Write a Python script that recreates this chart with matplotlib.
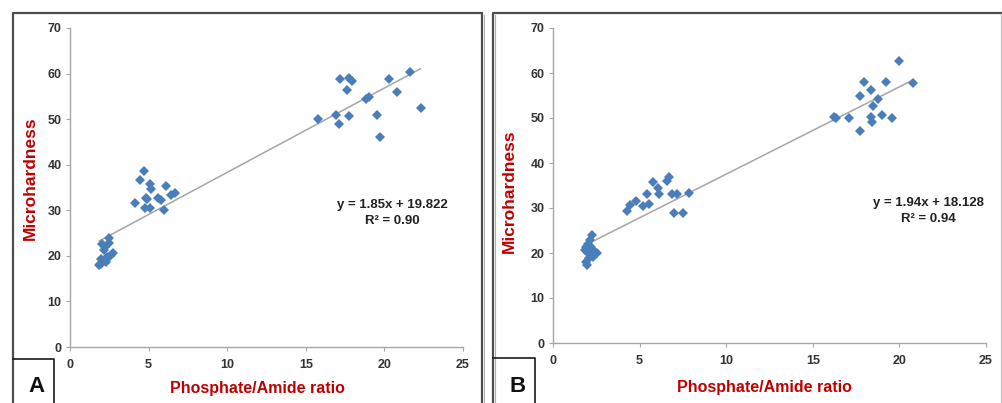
import matplotlib
matplotlib.use("Agg")
import matplotlib.pyplot as plt
import numpy as np
from matplotlib.lines import Line2D

plt.rcParams['font.family'] = ['Liberation Sans', 'DejaVu Sans']
plt.rcParams['font.weight'] = 'bold'

# =============================================================================
# DATA
# =============================================================================
# Panel A
a_ratio = [15.8, 16.9, 17.1, 17.2, 17.65, 17.75, 17.95, 17.75, 18.8, 19.0,
           19.5, 19.7, 20.3, 20.8, 21.6, 22.3,
           4.15, 4.45, 4.7, 4.75, 4.85, 4.9, 5.1, 5.15, 5.1, 5.6, 5.8, 5.95,
           6.1, 6.45, 6.7,
           1.86, 2.0, 2.05, 2.15, 2.25, 2.35, 2.45, 2.5, 2.75, 1.95, 2.3,
           2.55, 2.2]
a_hard = [50.0, 51.0, 48.9, 58.7, 56.3, 59.0, 58.4, 50.6, 54.4, 54.8,
          51.0, 46.1, 58.8, 55.9, 60.3, 52.4,
          31.7, 36.7, 38.7, 30.6, 32.8, 32.4, 35.8, 34.7, 30.6, 32.8, 32.3,
          30.0, 35.3, 33.4, 33.7,
          18.0, 18.3, 22.7, 21.3, 19.1, 19.8, 24.0, 22.9, 20.7, 19.4, 18.7,
          19.9, 22.0]
a_slope, a_intercept = 1.85, 19.822
a_eq = "y = 1.85x + 19.822"
a_r2 = "R² = 0.90"

# Panel B
b_ratio = [16.2, 16.35, 17.1, 17.75, 17.75, 17.95, 18.35, 18.35, 18.4, 18.5,
           18.75, 19.0, 19.2, 19.6, 20.0, 20.8,
           4.3, 4.45, 4.8, 5.2, 5.45, 5.55, 5.8, 6.05, 6.1, 6.6, 6.7, 6.85,
           7.15, 7.0, 7.5, 7.85,
           1.97, 1.9, 1.85, 2.02, 2.15, 2.27, 2.02, 2.3, 2.55, 2.2, 2.4,
           2.08, 1.93]
b_hard = [50.3, 50.0, 50.1, 55.0, 47.2, 58.1, 56.3, 50.2, 49.1, 52.7,
          54.2, 50.6, 58.0, 50.0, 62.6, 57.8,
          29.3, 30.7, 31.6, 30.4, 33.1, 31.0, 35.8, 34.4, 33.1, 35.9, 37.0,
          33.1, 33.1, 29.0, 29.0, 33.4,
          17.3, 18.0, 20.6, 22.1, 23.0, 23.9, 19.9, 19.2, 19.9, 21.4, 20.3,
          18.8, 21.4]
b_slope, b_intercept = 1.94, 18.128
b_eq = "y = 1.94x + 18.128"
b_r2 = "R² = 0.94"

x_ticks = [0, 5, 10, 15, 20, 25]
y_ticks = [0, 10, 20, 30, 40, 50, 60, 70]

# =============================================================================
# STYLE
# =============================================================================
MARKER_COLOR = '#4a7ebb'
TREND_COLOR = '#a6a6a6'
LABEL_RED = '#c00000'
TICK_COLOR = '#333333'
SPINE_COLOR = '#a6a6a6'
W, H = 1003, 403

fig = plt.figure(figsize=(W / 100, H / 100), dpi=100)


def px_rect(x0, x1, ytop, ybot):
    # pixel box -> figure fraction [left, bottom, width, height]
    return [x0 / W, 1 - ybot / H, (x1 - x0) / W, (ybot - ytop) / H]


def draw_panel(rect, ratio, hard, slope, intercept, eq, r2, eq_xy):
    ax = fig.add_axes(rect)
    ax.plot(ratio, hard, linestyle='None', marker='D', markersize=4.8,
            color=MARKER_COLOR, markeredgewidth=0, zorder=3)
    xs = np.array([min(ratio), max(ratio)])
    ax.plot(xs, slope * xs + intercept, color=TREND_COLOR, lw=1.1, zorder=2)
    ax.set_xlim(0, 25)
    ax.set_ylim(0, 70)
    ax.set_xticks(x_ticks)
    ax.set_yticks(y_ticks)
    for s in ['top', 'right']:
        ax.spines[s].set_visible(False)
    for s in ['left', 'bottom']:
        ax.spines[s].set_color(SPINE_COLOR)
        ax.spines[s].set_linewidth(1.0)
    ax.tick_params(axis='both', colors=SPINE_COLOR, length=3, width=0.8,
                   labelcolor=TICK_COLOR, labelsize=9)
    ax.tick_params(axis='x', pad=6)
    ax.tick_params(axis='y', pad=3)
    for lab in ax.get_xticklabels() + ax.get_yticklabels():
        lab.set_fontweight('bold')
    ax.set_xlabel("Phosphate/Amide ratio", color=LABEL_RED, fontsize=11.5,
                  fontweight='bold')
    ax.set_ylabel("Microhardness", color=LABEL_RED, fontsize=12.5,
                  fontweight='bold')
    ax.text(eq_xy[0], eq_xy[1], eq + "\n" + r2, transform=ax.transAxes,
            ha='center', va='center', fontsize=9.5, fontweight='bold',
            color='#222222', linespacing=1.35)
    return ax


ax_a = draw_panel(px_rect(70, 463, 28, 347), a_ratio, a_hard,
                  a_slope, a_intercept, a_eq, a_r2,
                  ((392 - 70) / 393, (347 - 213) / 319))
ax_a.xaxis.set_label_coords((257 - 70) / 393, -(381 - 347) / 319)
ax_a.yaxis.set_label_coords(-(70 - 38) / 393, (347 - 178) / 319)

ax_b = draw_panel(px_rect(553, 986, 28, 343), b_ratio, b_hard,
                  b_slope, b_intercept, b_eq, b_r2,
                  ((928 - 553) / 433, (343 - 211) / 315))
ax_b.xaxis.set_label_coords((764 - 553) / 433, -(380 - 343) / 315)
ax_b.yaxis.set_label_coords(-(553 - 517) / 433, (343 - 191) / 315)

# =============================================================================
# PANEL FRAMES + LETTER BOXES (figure pixel coordinates)
# =============================================================================
def fline(xs, ys, color, lw):
    fig.add_artist(Line2D([x / W for x in xs], [1 - y / H for y in ys],
                          color=color, lw=lw, transform=fig.transFigure,
                          solid_capstyle='projecting'))


# frame A
fline([13, 13, 482, 482], [410, 13, 13, 410], '#4d4d4d', 1.6)
fline([484, 484], [15, 410], '#b0b0b0', 0.8)
# frame B
fline([493, 493, 1010], [410, 13, 13], '#4d4d4d', 1.6)
fline([495, 495], [15, 410], '#b0b0b0', 0.8)
fline([1001, 1001], [14, 410], '#c0c0c0', 0.8)

# letter boxes
fline([13, 54, 54], [359, 359, 410], '#1a1a1a', 1.2)
fline([493, 535, 535], [358, 358, 410], '#1a1a1a', 1.2)
fig.text(37 / W, 1 - 386 / H, "A", ha='center', va='center', fontsize=16,
         fontweight='bold', color='#111111')
fig.text(518 / W, 1 - 386 / H, "B", ha='center', va='center', fontsize=16,
         fontweight='bold', color='#111111')

fig.savefig("out.png", dpi=100)
